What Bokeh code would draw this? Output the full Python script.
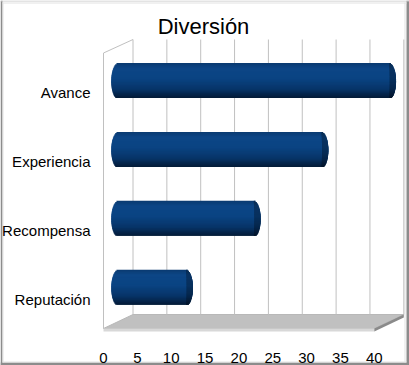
import numpy as np
from bokeh.plotting import figure
from bokeh.models import Range1d
from bokeh.core.properties import value
from bokeh.embed import file_html
from bokeh.resources import INLINE

# ---- data ----
title = "Diversión"
categories = ["Reputación", "Recompensa", "Experiencia", "Avance"]
values = [10, 20, 30, 40]
x_ticks = [0, 5, 10, 15, 20, 25, 30, 35, 40]
x_tick_labels = ["0", "5", "10", "15", "20", "25", "30", "35", "40"]

# ---- style / layout constants (y in pixel units, 0 = bottom of frame) ----
W, H = 409, 365
PX = 6.77            # pixels per x unit
X0 = 103             # pixel of x = 0 from the figure's left edge
DX = 29.5 / PX       # depth offset in x units
DY = 14.0            # depth offset in y
FLOOR_Y = 37.0
WALL_TOP = 326.0
SLOT0 = 71.3
SLOT = 68.9
BAR_H = 35.0
CAP = 7.0 / PX
FONT = "Liberation Sans"
GRID = "#c0c0c0"
XMAX = x_ticks[-1]


def xs(px):
    return (px - X0) / PX


def ys_(py):
    return H - py


p = figure(width=W, height=H,
           x_range=Range1d(xs(0), xs(W)), y_range=Range1d(0, H),
           output_backend="svg", toolbar_location=None,
           x_axis_location=None, y_axis_location=None, min_border=0)
p.outline_line_color = None
p.background_fill_color = "white"
p.border_fill_color = "white"
p.grid.visible = False

# outer picture frame
p.quad(left=[xs(0), xs(406), xs(0), xs(0)], right=[xs(2), xs(409), xs(409), xs(409)],
       bottom=[ys_(365), ys_(365), ys_(365), ys_(1)], top=[ys_(0), ys_(0), ys_(362), ys_(0)],
       fill_color=["#8c8c8c", "#8c8c8c", "#8c8c8c", "#c8c8c8"], line_color=None)
p.multi_line([[xs(2.5), xs(2.5)], [xs(404.5), xs(404.5)], [xs(2), xs(406)], [xs(2), xs(406)]],
             [[ys_(2), ys_(362)], [ys_(2), ys_(362)], [ys_(361.5), ys_(361.5)], [ys_(2.5), ys_(2.5)]],
             line_color="#e2e2e2", line_width=1)

# floor slab
p.patch([0, DX, XMAX + DX, XMAX], [FLOOR_Y, FLOOR_Y + DY, FLOOR_Y + DY, FLOOR_Y],
        fill_color="#c0c0c0", line_color="#b8b8b8", line_width=1)
p.patch([0, XMAX, XMAX, 0], [FLOOR_Y - 3, FLOOR_Y - 3, FLOOR_Y, FLOOR_Y],
        fill_color="#d8d8d8", line_color=None)
p.patch([XMAX, XMAX + DX, XMAX + DX, XMAX],
        [FLOOR_Y - 3, FLOOR_Y + DY - 3, FLOOR_Y + DY, FLOOR_Y],
        fill_color="#8a8a8a", line_color=None)

# back wall grid lines
bx = [[t + DX, t + DX] for t in x_ticks]
by = [[FLOOR_Y + DY, WALL_TOP] for _ in x_ticks]
p.multi_line(bx, by, line_color=GRID, line_width=1)
# left wall edge
p.line([0, 0, DX], [FLOOR_Y, WALL_TOP - DY + 0.5, WALL_TOP], line_color=GRID, line_width=1)


# cylinder bars
def lerp_color(stops, f):
    for (f0, c0), (f1, c1) in zip(stops[:-1], stops[1:]):
        if f <= f1:
            u = (f - f0) / (f1 - f0) if f1 > f0 else 0
            a = [int(c0[i:i + 2], 16) for i in (1, 3, 5)]
            b = [int(c1[i:i + 2], 16) for i in (1, 3, 5)]
            return tuple(a[k] + (b[k] - a[k]) * u for k in range(3))
    c = stops[-1][1]
    return tuple(int(c[i:i + 2], 16) for i in (1, 3, 5))


def hexc(rgb, k=1.0):
    return "#%02x%02x%02x" % tuple(int(max(0, min(255, round(v * k)))) for v in rgb)


stops = [(0.0, "#0a3a70"), (0.15, "#0c4686"), (0.45, "#0a4382"),
         (0.75, "#073468"), (1.0, "#031a36")]
N = 30
hs = BAR_H / N
ys, hh, lefts, rights, cols = [], [], [], [], []
ys2, l2, r2, c2 = [], [], [], []
for i, v in enumerate(values):
    yc = SLOT0 + i * SLOT + DY / 2
    x0 = DX / 2
    x1 = v + DX / 2
    for j in range(N):
        t = 1 - (j + 0.5) * 2 / N
        f = (1 - t) / 2
        w = CAP * np.sqrt(max(0.0, 1 - t * t))
        rgb = lerp_color(stops, f)
        top = yc + BAR_H / 2 - j * hs
        bot = max(yc - BAR_H / 2, top - 2.2 * hs)
        ys.append((top + bot) / 2)
        hh.append(top - bot)
        lefts.append(x0 - w)
        rights.append(x1 + w)
        cols.append(hexc(rgb))
        ys2.append((top + bot) / 2)
        l2.append(x1 + 0.1 * w)
        r2.append(x1 + w)
        c2.append(hexc(rgb, 0.72))
p.hbar(y=ys, left=lefts, right=rights, height=hh,
       fill_color=cols, line_color=None)
p.hbar(y=ys2, left=l2, right=r2, height=hh,
       fill_color=c2, line_color=None)

# category labels
lab_y = [SLOT0 + i * SLOT - 5.3 for i in range(len(categories))]
p.text(x=[xs(90)] * len(categories), y=lab_y, text=categories,
       text_align="right", text_baseline="alphabetic",
       text_font=value(FONT), text_font_size="15px", text_color="#000000")

# x tick labels
p.text(x=x_ticks, y=[8.0] * len(x_ticks), text=x_tick_labels,
       text_align="center", text_baseline="alphabetic",
       text_font=value(FONT), text_font_size="15px", text_color="#000000")

# title
p.text(x=[xs(203)], y=[339], text=[title], text_align="center",
       text_baseline="alphabetic", text_font=value(FONT),
       text_font_size="22px", text_color="#000000")

open("out.html", "w").write(file_html(p, INLINE))
